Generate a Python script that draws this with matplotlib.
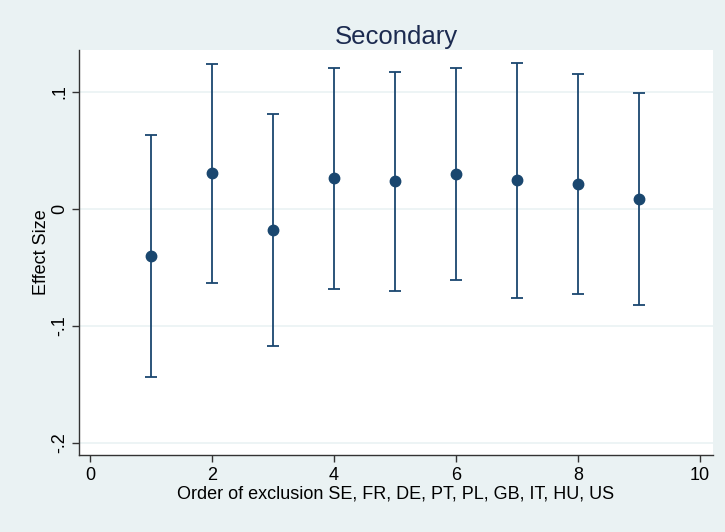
import numpy as np
from matplotlib import pyplot as plt

# Ordem de exclusão e estimativas
order = [1, 2, 3, 4, 5, 6, 7, 8, 9]
effect = [-0.040, 0.0305, -0.018, 0.0262, 0.024, 0.030, 0.0248, 0.021, 0.0085]
ci_low = [-0.144, -0.0635, -0.117, -0.068, -0.070, -0.061, -0.076, -0.073, -0.082]
ci_high = [0.0635, 0.124, 0.0815, 0.1205, 0.1174, 0.1208, 0.125, 0.115, 0.099]

xticks = [0, 2, 4, 6, 8, 10]
yticks = [-0.2, -0.1, 0, 0.1]
ytick_labels = ['-.2', '-.1', '0', '.1']

navy = '#1a476f'
bg = '#eaf2f3'

plt.rcParams['font.family'] = ['Liberation Sans', 'DejaVu Sans']

fig = plt.figure(figsize=(7.25, 5.32), dpi=100, facecolor=bg)
ax = fig.add_axes([79 / 725, 1 - 455 / 532, (713 - 79) / 725, (455 - 50) / 532])
ax.set_facecolor('white')

effect = np.array(effect)
yerr = np.vstack([effect - np.array(ci_low), np.array(ci_high) - effect])

# Barras de erro + pontos
ax.errorbar(order, effect, yerr=yerr, fmt='o', color=navy, ecolor=navy,
            markersize=7.5, elinewidth=1.3, capsize=4.5, capthick=1.3, zorder=3)

ax.set_xlim(-0.18, 10.21)
ax.set_ylim(-0.2103, 0.1359)
ax.set_xticks(xticks)
ax.set_yticks(yticks)
ax.set_yticklabels(ytick_labels, rotation=90, va='center')
ax.yaxis.grid(True, color=bg, linewidth=1.2)
ax.set_axisbelow(True)

for s in ['top', 'right']:
    ax.spines[s].set_visible(False)
for s in ['left', 'bottom']:
    ax.spines[s].set_color('#333333')
    ax.spines[s].set_linewidth(1.0)

ax.tick_params(axis='both', direction='out', length=5, width=1, color='#333333',
               labelsize=13, labelcolor='black')
ax.tick_params(axis='x', pad=4)
ax.tick_params(axis='y', pad=3)

ax.set_xlabel('Order of exclusion SE, FR, DE, PT, PL, GB, IT, HU, US', fontsize=13, labelpad=1)
ax.set_ylabel('Effect Size', fontsize=13, labelpad=1)
ax.set_title('Secondary', fontsize=18.5, color='#1c2b50', pad=4)

plt.savefig('out.png', dpi=100, facecolor=bg)
